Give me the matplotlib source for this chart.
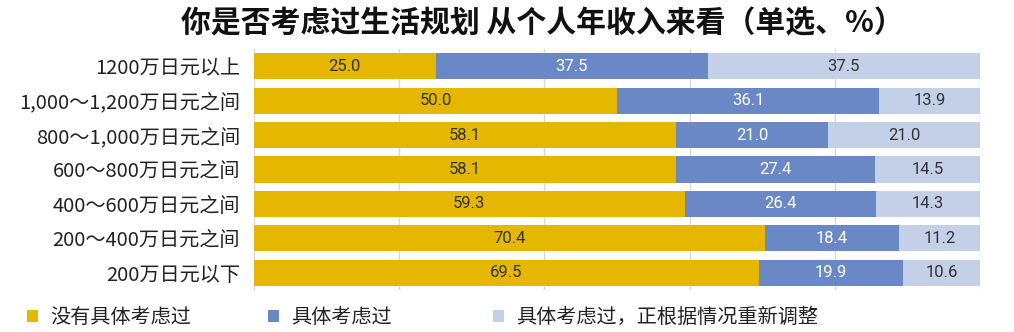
import matplotlib.pyplot as plt
import numpy as np

plt.rcParams['font.family'] = ['Noto Sans CJK SC', 'DejaVu Sans']

# 年收入分组（从上到下）
categories = ["1200万日元以上", "1,000～1,200万日元之间", "800～1,000万日元之间",
              "600～800万日元之间", "400～600万日元之间", "200～400万日元之间", "200万日元以下"]
no_plan = [25.0, 50.0, 58.1, 58.1, 59.3, 70.4, 69.5]
planned = [37.5, 36.1, 21.0, 27.4, 26.4, 18.4, 19.9]
adjusting = [37.5, 13.9, 21.0, 14.5, 14.3, 11.2, 10.6]
series_names = ["没有具体考虑过", "具体考虑过", "具体考虑过，正根据情况重新调整"]

colors = ["#E5B700", "#6A88C5", "#C4D0E7"]
text_colors = ["#333333", "white", "#333333"]

fig = plt.figure(figsize=(10.14, 3.32), dpi=100)
ax = fig.add_axes([0.2505, 0.1265, 0.7160, 0.7260])

y = np.arange(len(categories))
left = np.zeros(len(categories))
bars = []
for vals, c, tc in zip([no_plan, planned, adjusting], colors, text_colors):
	vals = np.array(vals)
	b = ax.barh(y, vals, left=left, height=0.76, color=c, zorder=2)
	bars.append(b)
	for yi, l, v in zip(y, left, vals):
		ax.text(l + v / 2, yi, f"{v:.1f}", ha="center", va="center",
				color=tc, fontsize=12, family=["Roboto", "DejaVu Sans"], zorder=3)
	left = left + vals

ax.set_xlim(0, 100)
ax.set_ylim(len(categories) - 0.5, -0.5)
ax.set_xticks(np.arange(0, 101, 20))
ax.grid(axis="x", color="#D9D9D9", linewidth=1, zorder=0)
ax.tick_params(axis="x", length=0, labelbottom=False)
ax.tick_params(axis="y", length=0, pad=10)
ax.set_yticks(y)
ax.set_yticklabels(categories, fontsize=14.5, color="#222222")
for s in ax.spines.values():
	s.set_visible(False)

fig.text(0.535, 0.93, "你是否考虑过生活规划 从个人年收入来看（单选、%）",
		 ha="center", va="center", fontsize=21.5, fontweight="bold", color="#111111")

# 底部图例，三项各自定位
legend_x = [0.013, 0.250, 0.472]
for b, name, lx in zip(bars, series_names, legend_x):
	lg = fig.legend([b], [name], loc="lower left", bbox_to_anchor=(lx, -0.03),
					frameon=False, fontsize=14.5, handlelength=0.55, handleheight=0.55,
					handletextpad=0.6, borderaxespad=0.3)
	for t in lg.get_texts():
		t.set_color("#222222")

plt.savefig("out.png")
